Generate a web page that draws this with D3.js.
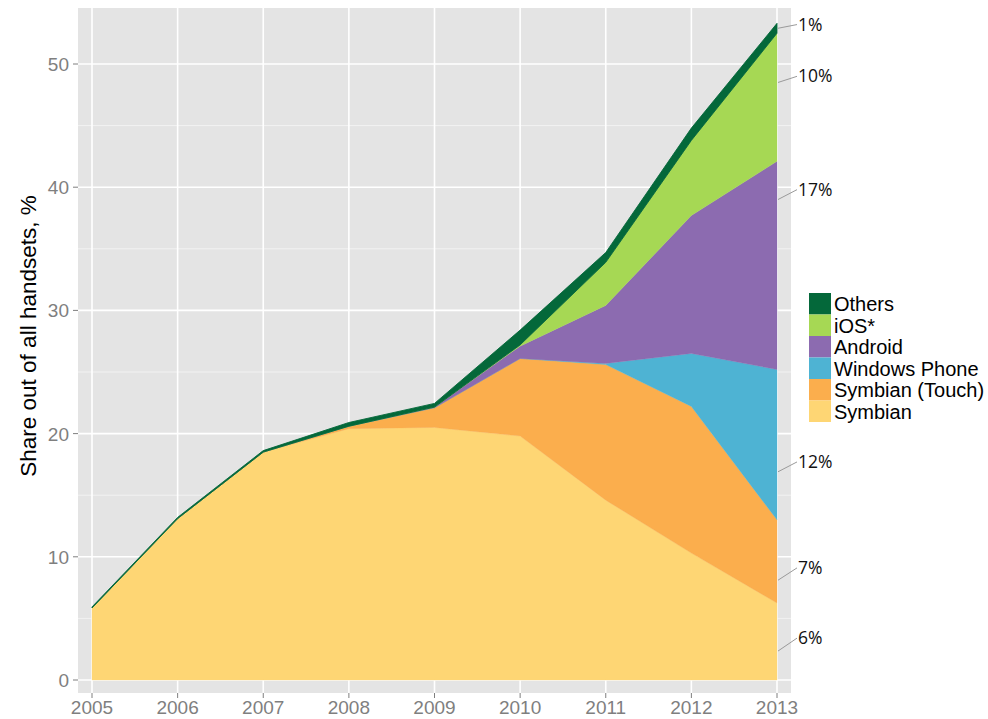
<html>
<head>
<title>Smartphone OS share</title>
<meta charset="utf-8">
<style type="text/css">
* { margin: 0; padding: 0; }
body { background: #fff; }
text.tick { font-family: "Liberation Sans", Arial, sans-serif; font-size: 19px; fill: #7f7f7f; }
text.legend { font-family: "Liberation Sans", Arial, sans-serif; font-size: 20px; fill: #000; }
text.callout { font-family: "Open Sans", sans-serif; font-size: 17.5px; fill: #111; }
</style>
<script type="text/javascript" src="https://cdn.jsdelivr.net/npm/d3@7/dist/d3.min.js"></script>
<script type="text/javascript">
// values, % of all handsets
var years = [2005, 2006, 2007, 2008, 2009, 2010, 2011, 2012, 2013];
var symbian      = [5.85, 13.1, 18.5, 20.4, 20.5, 19.8, 14.6, 10.3, 6.25];
var symbianTouch = [0, 0, 0, 0.2, 1.6, 6.3, 11.0, 11.9, 6.75];
var windowsPhone = [0, 0, 0, 0, 0, 0, 0.1, 4.3, 12.2];
var android      = [0, 0, 0, 0, 0.05, 1.0, 4.7, 11.2, 16.9];
var ios          = [0, 0, 0, 0, 0, 0.1, 3.5, 6.1, 10.4];
var others       = [0.08, 0.1, 0.12, 0.3, 0.3, 1.2, 0.8, 1.0, 0.8];

// bottom to top
var seriesNames = ["Symbian", "Symbian (Touch)", "Windows Phone", "Android", "iOS*", "Others"];
var seriesValues = [symbian, symbianTouch, windowsPhone, android, ios, others];
var seriesColors = ["#fed674", "#fbae4d", "#4eb3d3", "#8c6bb0", "#a6d854", "#04683a"];

var yTicks = [0, 10, 20, 30, 40, 50];
var yMinor = [5, 15, 25, 35, 45];
// where the 2013 callouts attach (series value) and where their text sits
var calloutFrom = [2.35, 8.1, 16.9, 39.0, 48.5, 52.9];
var calloutTo   = [3.4, 9.1, 17.7, 39.8, 49.0, 53.2];

window.onload = function() {
  var W = 988, H = 719;
  var panel = { left: 78, right: 791, top: 8, bottom: 693 };

  var svg = d3.select("#chart").append("svg")
    .attr("width", W).attr("height", H);

  var x = d3.scaleLinear().domain([2005, 2013]).range([92, 777]);
  var y = d3.scaleLinear().domain([0, 50]).range([680, 64]);

  var rows = years.map(function(yr, i) {
    var r = { year: yr };
    seriesNames.forEach(function(n, k) { r[n] = seriesValues[k][i]; });
    return r;
  });
  var stacked = d3.stack().keys(seriesNames)(rows);

  // panel + grid
  svg.append("rect")
    .attr("x", panel.left).attr("y", panel.top)
    .attr("width", panel.right - panel.left).attr("height", panel.bottom - panel.top)
    .attr("fill", "#e4e4e4");

  svg.selectAll("line.minor").data(yMinor).enter().append("line")
    .attr("x1", panel.left).attr("x2", panel.right)
    .attr("y1", function(d) { return y(d); }).attr("y2", function(d) { return y(d); })
    .attr("stroke", "#f2f2f2").attr("stroke-width", 1);

  svg.selectAll("line.hmajor").data(yTicks).enter().append("line")
    .attr("x1", panel.left).attr("x2", panel.right)
    .attr("y1", function(d) { return y(d); }).attr("y2", function(d) { return y(d); })
    .attr("stroke", "#fff").attr("stroke-width", 1.6);

  svg.selectAll("line.vmajor").data(years).enter().append("line")
    .attr("y1", panel.top).attr("y2", panel.bottom)
    .attr("x1", function(d) { return x(d); }).attr("x2", function(d) { return x(d); })
    .attr("stroke", "#fff").attr("stroke-width", 1.6);

  // areas
  var area = d3.area()
    .x(function(d) { return x(d.data.year); })
    .y0(function(d) { return y(d[0]); })
    .y1(function(d) { return y(d[1]); });

  svg.selectAll("path.layer").data(stacked).enter().append("path")
    .attr("d", area)
    .attr("fill", function(d, i) { return seriesColors[i]; })
    .attr("stroke", function(d, i) { return seriesColors[i]; })
    .attr("stroke-width", function(d, i) { return i == seriesNames.length - 1 ? 0.9 : 0.3; });

  // axes
  var xAxis = svg.append("g");
  years.forEach(function(yr) {
    xAxis.append("line")
      .attr("x1", x(yr)).attr("x2", x(yr))
      .attr("y1", panel.bottom).attr("y2", panel.bottom + 5)
      .attr("stroke", "#7f7f7f").attr("stroke-width", 1);
    xAxis.append("text").attr("class", "tick")
      .attr("x", x(yr)).attr("y", 714)
      .attr("text-anchor", "middle")
      .text(yr);
  });

  var yAxis = svg.append("g");
  yTicks.forEach(function(v) {
    yAxis.append("line")
      .attr("x1", panel.left - 5).attr("x2", panel.left)
      .attr("y1", y(v)).attr("y2", y(v))
      .attr("stroke", "#7f7f7f").attr("stroke-width", 1);
    yAxis.append("text").attr("class", "tick")
      .attr("x", panel.left - 9).attr("y", y(v) + 7)
      .attr("text-anchor", "end")
      .text(v);
  });

  svg.append("text")
    .attr("transform", "translate(36," + 336 + ") rotate(-90)")
    .attr("text-anchor", "middle")
    .style("font-family", "'Liberation Sans', Arial, sans-serif")
    .style("font-size", "22.5px")
    .attr("fill", "#000")
    .text("Share out of all handsets, %");

  // callouts at 2013
  var last = years.length - 1;
  seriesNames.forEach(function(n, k) {
    var pct = Math.round(seriesValues[k][last]) + "%";
    svg.append("line")
      .attr("x1", x(2013) + 1).attr("y1", y(calloutFrom[k]))
      .attr("x2", x(2013) + 20).attr("y2", y(calloutTo[k]))
      .attr("stroke", "#9a9a9a").attr("stroke-width", 1);
    svg.append("text").attr("class", "callout")
      .attr("x", x(2013) + 21).attr("y", y(calloutTo[k]) + 6)
      .text(pct);
  });

  // legend, top entry is the top layer
  var legend = svg.append("g").attr("transform", "translate(809,293)");
  var order = seriesNames.slice().reverse();
  var colors = seriesColors.slice().reverse();
  order.forEach(function(n, i) {
    legend.append("rect")
      .attr("x", 0).attr("y", i * 21.5)
      .attr("width", 22).attr("height", 21.5)
      .attr("fill", colors[i]);
    legend.append("text").attr("class", "legend")
      .attr("x", 25).attr("y", i * 21.5 + 18)
      .text(n);
  });
};
</script>
</head>
<body>
  <div id="chart"></div>
</body>
</html>
